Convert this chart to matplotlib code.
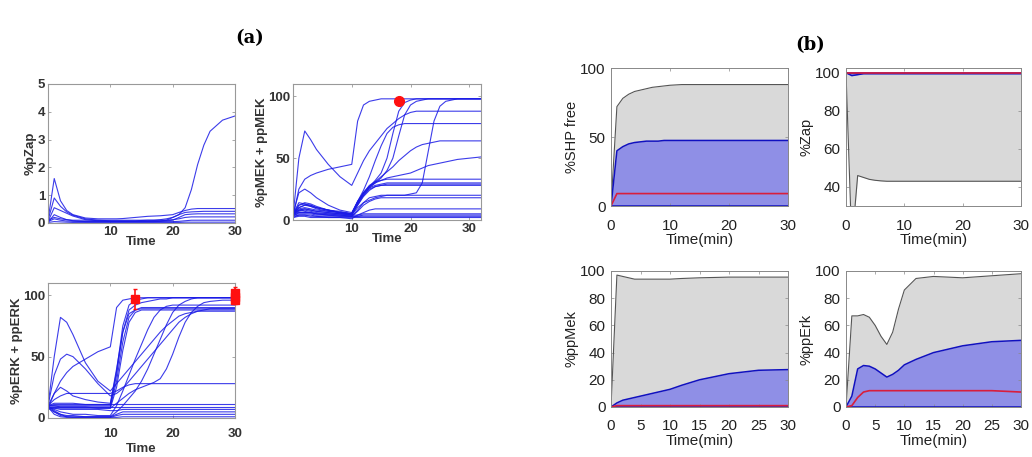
import matplotlib
matplotlib.use('Agg')
import matplotlib.pyplot as plt
import numpy as np

# ---------- panel (a): model trajectories ----------
ta = [0, 1, 2, 3, 4, 6, 8, 10, 11, 12, 13, 14, 15, 16, 17, 18, 19, 20, 21, 22, 23, 24, 25, 26, 28, 30, 32]

pzap_curves = [
	[0.1, 1.6, 0.8, 0.45, 0.3, 0.18, 0.15, 0.15, 0.15, 0.16, 0.18, 0.2, 0.22, 0.24, 0.25, 0.26, 0.28, 0.3, 0.38, 0.45, 0.5, 0.52, 0.52, 0.52, 0.52, 0.52, 0.52],
	[0.1, 0.9, 0.6, 0.4, 0.28, 0.15, 0.1, 0.08, 0.08, 0.08, 0.08, 0.08, 0.09, 0.1, 0.1, 0.12, 0.15, 0.2, 0.3, 0.55, 1.2, 2.1, 2.8, 3.3, 3.7, 3.85, 3.9],
	[0.05, 0.55, 0.45, 0.35, 0.25, 0.12, 0.08, 0.06, 0.06, 0.06, 0.06, 0.06, 0.07, 0.07, 0.08, 0.08, 0.1, 0.2, 0.3, 0.38, 0.4, 0.41, 0.42, 0.42, 0.42, 0.42, 0.42],
	[0.02, 0.3, 0.2, 0.12, 0.08, 0.05, 0.05, 0.05, 0.05, 0.05, 0.05, 0.05, 0.05, 0.05, 0.05, 0.06, 0.08, 0.1, 0.2, 0.3, 0.32, 0.33, 0.33, 0.33, 0.33, 0.33, 0.33],
	[0.1, 0.2, 0.15, 0.12, 0.1, 0.1, 0.1, 0.1, 0.1, 0.1, 0.1, 0.1, 0.1, 0.1, 0.1, 0.1, 0.1, 0.12, 0.15, 0.2, 0.22, 0.22, 0.22, 0.22, 0.22, 0.22, 0.22],
	[0.05, 0.15, 0.1, 0.07, 0.06, 0.05, 0.05, 0.05, 0.05, 0.05, 0.05, 0.05, 0.05, 0.05, 0.05, 0.05, 0.05, 0.05, 0.06, 0.08, 0.1, 0.1, 0.1, 0.1, 0.1, 0.1, 0.1],
	[0.02, 0.05, 0.04, 0.03, 0.02, 0.02, 0.02, 0.02, 0.02, 0.02, 0.02, 0.02, 0.02, 0.02, 0.02, 0.02, 0.02, 0.02, 0.02, 0.03, 0.03, 0.03, 0.03, 0.03, 0.03, 0.03, 0.03],
]

pmek_curves = [
	[3, 25, 33, 36, 38, 41, 43, 45, 80, 93, 96, 97, 98, 98, 98, 98, 98, 98, 98, 98, 98, 98, 98, 98, 98, 98, 98],
	[3, 50, 72, 65, 57, 45, 35, 28, 38, 48, 56, 62, 68, 74, 78, 82, 85, 87, 88, 88, 88, 88, 88, 88, 88, 88, 88],
	[5, 10, 12, 12, 10, 8, 7, 5, 15, 22, 27, 32, 38, 50, 70, 88, 95, 97, 98, 98, 98, 98, 98, 98, 98, 98, 98],
	[5, 8, 9, 8, 7, 6, 5, 5, 14, 20, 26, 30, 34, 40, 50, 68, 85, 93, 96, 97, 98, 98, 98, 98, 98, 98, 98],
	[5, 12, 14, 13, 11, 8, 6, 4, 10, 14, 16, 18, 19, 20, 20, 20, 20, 21, 22, 30, 55, 80, 92, 96, 98, 98, 98],
	[5, 22, 25, 22, 18, 12, 8, 6, 15, 24, 35, 48, 60, 70, 75, 77, 78, 78, 78, 78, 78, 78, 78, 78, 78, 78, 78],
	[5, 10, 12, 11, 10, 8, 6, 5, 15, 22, 27, 31, 35, 39, 43, 48, 52, 56, 59, 61, 62, 63, 64, 64, 64, 64, 64],
	[5, 8, 9, 8, 7, 6, 5, 4, 14, 22, 27, 30, 32, 34, 35, 36, 37, 38, 40, 42, 44, 45, 46, 47, 49, 50, 51],
	[5, 12, 13, 12, 10, 8, 6, 5, 14, 22, 28, 31, 32, 33, 33, 33, 33, 33, 33, 33, 33, 33, 33, 33, 33, 33, 33],
	[6, 9, 10, 9, 8, 7, 6, 5, 13, 21, 26, 28, 29, 30, 30, 30, 30, 30, 30, 30, 30, 30, 30, 30, 30, 30, 30],
	[4, 7, 8, 7, 6, 5, 5, 4, 12, 20, 25, 27, 28, 29, 29, 29, 29, 29, 29, 29, 29, 29, 29, 29, 29, 29, 29],
	[5, 14, 13, 11, 9, 7, 6, 5, 12, 19, 24, 27, 28, 28, 28, 28, 28, 28, 28, 28, 28, 28, 28, 28, 28, 28, 28],
	[3, 6, 6, 6, 5, 4, 4, 3, 8, 14, 18, 19, 20, 20, 20, 20, 20, 20, 20, 20, 20, 20, 20, 20, 20, 20, 20],
	[4, 8, 7, 6, 5, 4, 3, 3, 7, 12, 15, 17, 18, 18, 18, 18, 18, 18, 18, 18, 18, 18, 18, 18, 18, 18, 18],
	[2, 4, 4, 3, 3, 2, 2, 1, 4, 6, 8, 9, 9, 9, 9, 9, 9, 9, 9, 9, 9, 9, 9, 9, 9, 9, 9],
	[5, 6, 6, 6, 5, 5, 4, 4, 4, 5, 5, 5, 5, 5, 5, 5, 5, 5, 5, 5, 5, 5, 5, 5, 5, 5, 5],
	[4, 5, 5, 5, 4, 4, 4, 3, 3, 4, 4, 4, 4, 4, 4, 4, 4, 4, 4, 4, 4, 4, 4, 4, 4, 4, 4],
	[3, 4, 4, 4, 3, 3, 3, 3, 3, 3, 3, 3, 3, 3, 3, 3, 3, 3, 3, 3, 3, 3, 3, 3, 3, 3, 3],
	[2, 3, 3, 2, 2, 2, 2, 2, 2, 2, 2, 2, 2, 2, 2, 2, 2, 2, 2, 2, 2, 2, 2, 2, 2, 2, 2],
]

perk_curves = [
	[10, 50, 82, 78, 68, 45, 30, 22, 28, 34, 40, 46, 52, 58, 64, 70, 75, 79, 83, 85, 86, 87, 87, 87, 87, 87, 87],
	[8, 20, 30, 37, 42, 48, 54, 58, 90, 96, 97, 98, 98, 98, 98, 98, 98, 98, 98, 98, 98, 98, 98, 98, 98, 98, 98],
	[10, 35, 48, 52, 50, 40, 28, 18, 20, 24, 30, 36, 42, 48, 54, 60, 66, 72, 78, 82, 85, 87, 88, 89, 89, 89, 89],
	[10, 20, 25, 22, 18, 15, 13, 12, 40, 70, 85, 88, 89, 89, 89, 89, 89, 89, 89, 89, 89, 89, 89, 89, 89, 89, 89],
	[10, 10, 10, 10, 10, 10, 10, 10, 35, 70, 88, 92, 94, 95, 96, 97, 97, 98, 98, 98, 98, 98, 98, 98, 98, 98, 98],
	[9, 9, 9, 9, 9, 9, 9, 9, 30, 62, 82, 88, 90, 90, 90, 90, 90, 90, 90, 90, 90, 90, 90, 90, 90, 90, 90],
	[8, 8, 8, 8, 8, 8, 8, 8, 25, 55, 78, 86, 88, 88, 88, 88, 88, 88, 88, 88, 88, 88, 88, 88, 88, 88, 88],
	[10, 11, 11, 11, 11, 11, 11, 11, 38, 75, 92, 96, 97, 98, 98, 98, 98, 98, 98, 98, 98, 98, 98, 98, 98, 98, 98],
	[8, 5, 3, 2, 2, 1, 1, 1, 5, 10, 16, 22, 30, 40, 52, 64, 76, 86, 92, 95, 97, 98, 98, 98, 98, 98, 98],
	[10, 10, 9, 9, 9, 9, 8, 8, 12, 16, 20, 23, 25, 27, 29, 32, 40, 52, 66, 78, 86, 91, 94, 95, 96, 96, 96],
	[9, 7, 5, 4, 3, 3, 2, 2, 10, 22, 35, 48, 60, 72, 82, 88, 91, 92, 92, 92, 92, 92, 92, 92, 92, 92, 92],
	[10, 15, 18, 20, 20, 20, 20, 20, 22, 25, 27, 28, 28, 28, 28, 28, 28, 28, 28, 28, 28, 28, 28, 28, 28, 28, 28],
	[10, 12, 12, 12, 12, 11, 11, 11, 11, 11, 11, 11, 11, 11, 11, 11, 11, 11, 11, 11, 11, 11, 11, 11, 11, 11, 11],
	[9, 9, 9, 9, 9, 9, 9, 9, 9, 9, 9, 9, 9, 9, 9, 9, 9, 9, 9, 9, 9, 9, 9, 9, 9, 9, 9],
	[8, 8, 7, 7, 7, 7, 7, 6, 6, 7, 7, 7, 7, 7, 7, 7, 7, 7, 7, 7, 7, 7, 7, 7, 7, 7, 7],
	[10, 6, 3, 1, 1, 1, 1, 1, 3, 5, 5, 5, 5, 5, 5, 5, 5, 5, 5, 5, 5, 5, 5, 5, 5, 5, 5],
	[10, 5, 2, 1, 0.5, 0.5, 0.5, 0.5, 2, 3, 3, 3, 3, 3, 3, 3, 3, 3, 3, 3, 3, 3, 3, 3, 3, 3, 3],
	[9, 3, 1, 0.5, 0.5, 0.5, 0.5, 0.5, 0.5, 1, 1, 1, 1, 1, 1, 1, 1, 1, 1, 1, 1, 1, 1, 1, 1, 1, 1],
]

# experimental points (red)
pmek_exp_t = [18]
pmek_exp_y = [96]
pmek_exp_err = [2]
perk_exp_t = [14, 30, 30, 30]
perk_exp_y = [97, 96, 99, 102]
perk_exp_err = [8, 3, 3, 5]

# ---------- panel (b): envelopes ----------
tb = [0, 1, 2, 3, 4, 5, 6, 7, 8, 9, 10, 12, 15, 20, 25, 30]

shp_hi = [0, 72, 78, 81, 83, 84, 85, 86, 86.5, 87, 87.5, 88, 88, 88, 88, 88]
shp_lo = [0] * 16
shp_blue = [0, 40, 43, 45, 46, 46.5, 47, 47, 47, 47.5, 47.5, 47.5, 47.5, 47.5, 47.5, 47.5]
shp_blue_lo = [0] * 16
shp_red = [0, 9, 9, 9, 9, 9, 9, 9, 9, 9, 9, 9, 9, 9, 9, 9]

zap_hi = [100] * 16
zap_lo = [100, 10, 46, 45, 44, 43.5, 43.2, 43, 43, 43, 43, 43, 43, 43, 43, 43]
zap_blue = [100] * 16
zap_blue_lo = [100, 98.5, 99, 99.5, 99.5, 99.5, 99.5, 99.5, 99.5, 99.5, 99.5, 99.5, 99.5, 99.5, 99.5, 99.5]
zap_red = [100] * 16

mek_hi = [0, 97, 96, 95, 94, 94, 94, 94, 94, 94, 94, 94.5, 95, 95.5, 95.5, 95.5]
mek_lo = [0] * 16
mek_blue = [0, 3, 5, 6, 7, 8, 9, 10, 11, 12, 13, 16, 20, 24.5, 27, 27.5]
mek_blue_lo = [0] * 16
mek_red = [0, 1, 1, 1, 1, 1, 1, 1, 1, 1, 1, 1, 1, 1, 1, 1]

erk_hi = [0, 67, 67, 68, 66, 60, 52, 46, 55, 72, 86, 94.5, 96, 95, 96.5, 98]
erk_lo = [0] * 16
erk_blue = [0, 8, 28, 30.5, 30, 28, 25, 22, 24, 27, 31, 35, 40, 45, 48, 49]
erk_blue_lo = [0] * 16
erk_red = [0, 1, 7, 11, 12, 12, 12, 12, 12, 12, 12, 12, 12, 12, 12, 11]

W, H = 1032, 457
fig = plt.figure(figsize=(W / 100, H / 100), dpi=100)


def px_axes(x0, y0, x1, y1):
	return fig.add_axes([x0 / W, 1 - y1 / H, (x1 - x0) / W, (y1 - y0) / H])


def style_a(ax, xpad=2):
	for s in ax.spines.values():
		s.set_color('#999999')
		s.set_linewidth(0.8)
	ax.tick_params(direction='in', top=True, right=True, length=2.5, width=0.6,
				   color='#999999', labelsize=9.5, labelcolor='#333333', pad=2)
	ax.tick_params(axis='x', pad=xpad)
	for lab in ax.get_xticklabels() + ax.get_yticklabels():
		lab.set_fontweight('bold')
		lab.set_family('Liberation Sans')


def style_b(ax):
	for s in ax.spines.values():
		s.set_color('#888888')
		s.set_linewidth(0.7)
	ax.tick_params(direction='in', top=True, right=True, length=2.5, width=0.5,
				   color='#888888', labelsize=11, labelcolor='#222222', pad=4)
	ax.tick_params(axis='x', pad=9)
	for t in ax.get_xticklabels() + ax.get_yticklabels():
		t.set_family('Liberation Sans')


blue = '#1a1ae6'
afont = dict(fontsize=9.5, fontweight='bold', color='#333333', family='Liberation Sans')

# (a) pZap
ax = px_axes(48, 84, 235, 223)
for c in pzap_curves:
	ax.plot(ta, c, color=blue, lw=0.8, alpha=0.85)
ax.set_xlim(0, 30)
ax.set_ylim(0, 5)
ax.set_xticks([10, 20, 30])
ax.set_yticks([0, 1, 2, 3, 4, 5])
ax.set_ylabel('%pZap', labelpad=1, **afont)
ax.set_xlabel('Time', labelpad=-1, **afont)
style_a(ax)

# (a) pMEK
ax = px_axes(293, 84, 481, 220)
for c in pmek_curves:
	ax.plot(ta, c, color=blue, lw=0.8, alpha=0.85)
ax.errorbar(pmek_exp_t, pmek_exp_y, yerr=pmek_exp_err, fmt='o', color='#ff1010',
			ms=7, capsize=1.5, lw=1, zorder=5)
ax.set_xlim(0, 32)
ax.set_ylim(0, 110)
ax.set_xticks([10, 20, 30])
ax.set_yticks([0, 50, 100])
ax.set_ylabel('%pMEK + ppMEK', labelpad=0, **afont)
ax.set_xlabel('Time', labelpad=-1, **afont)
style_a(ax)

# (a) pERK
ax = px_axes(48, 283, 235, 418)
for c in perk_curves:
	ax.plot(ta, c, color=blue, lw=0.8, alpha=0.85)
ax.errorbar(perk_exp_t, perk_exp_y, yerr=perk_exp_err, fmt='s', color='#ff1010',
			ms=6, capsize=1.5, lw=1.2, zorder=5, clip_on=False)
ax.set_xlim(0, 30)
ax.set_ylim(0, 110)
ax.set_xticks([10, 20, 30])
ax.set_yticks([0, 50, 100])
ax.set_ylabel('%pERK + ppERK', labelpad=0, **afont)
ax.set_xlabel('Time', labelpad=2, **afont)
style_a(ax, xpad=7)

fig.text(250 / W, 1 - 38 / H, '(a)', ha='center', va='center', fontsize=13,
		 fontweight='bold', family='DejaVu Serif')
fig.text(810 / W, 1 - 45 / H, '(b)', ha='center', va='center', fontsize=13,
		 fontweight='bold', family='DejaVu Serif')

# (b) panels
bfont = dict(color='#222222', family='Liberation Sans')
panels_b = [
	((611, 68, 788, 206), shp_lo, shp_hi, shp_blue_lo, shp_blue, shp_red, '%SHP free', (0, 100), [0, 50, 100], [0, 10, 20, 30]),
	((846, 68, 1021, 206), zap_lo, zap_hi, zap_blue_lo, zap_blue, zap_red, '%Zap', (30, 102.5), [40, 60, 80, 100], [0, 10, 20, 30]),
	((611, 271, 788, 407), mek_lo, mek_hi, mek_blue_lo, mek_blue, mek_red, '%ppMek', (0, 100), [0, 20, 40, 60, 80, 100], [0, 5, 10, 15, 20, 25, 30]),
	((846, 271, 1021, 407), erk_lo, erk_hi, erk_blue_lo, erk_blue, erk_red, '%ppErk', (0, 100), [0, 20, 40, 60, 80, 100], [0, 5, 10, 15, 20, 25, 30]),
]
for box, lo, hi, blo, bhi, red, lab, ylim, yt, xt in panels_b:
	ax = px_axes(*box)
	ax.fill_between(tb, lo, hi, color='#d9d9d9', lw=0)
	ax.plot(tb, hi, color='#555555', lw=0.8)
	ax.plot(tb, lo, color='#555555', lw=0.8)
	ax.fill_between(tb, blo, bhi, color='#8f8fe6', lw=0)
	ax.plot(tb, bhi, color='#1010c0', lw=1.1)
	ax.plot(tb, blo, color='#1010c0', lw=1.1)
	ax.plot(tb, red, color='#d81e3c', lw=1.2)
	ax.set_xlim(0, 30)
	ax.set_ylim(*ylim)
	ax.set_yticks(yt)
	ax.set_xticks(xt)
	ax.set_ylabel(lab, labelpad=1, fontsize=10.5, **bfont)
	ax.set_xlabel('Time(min)', labelpad=0, fontsize=11, **bfont)
	style_b(ax)

fig.savefig('out.png', dpi=100)
